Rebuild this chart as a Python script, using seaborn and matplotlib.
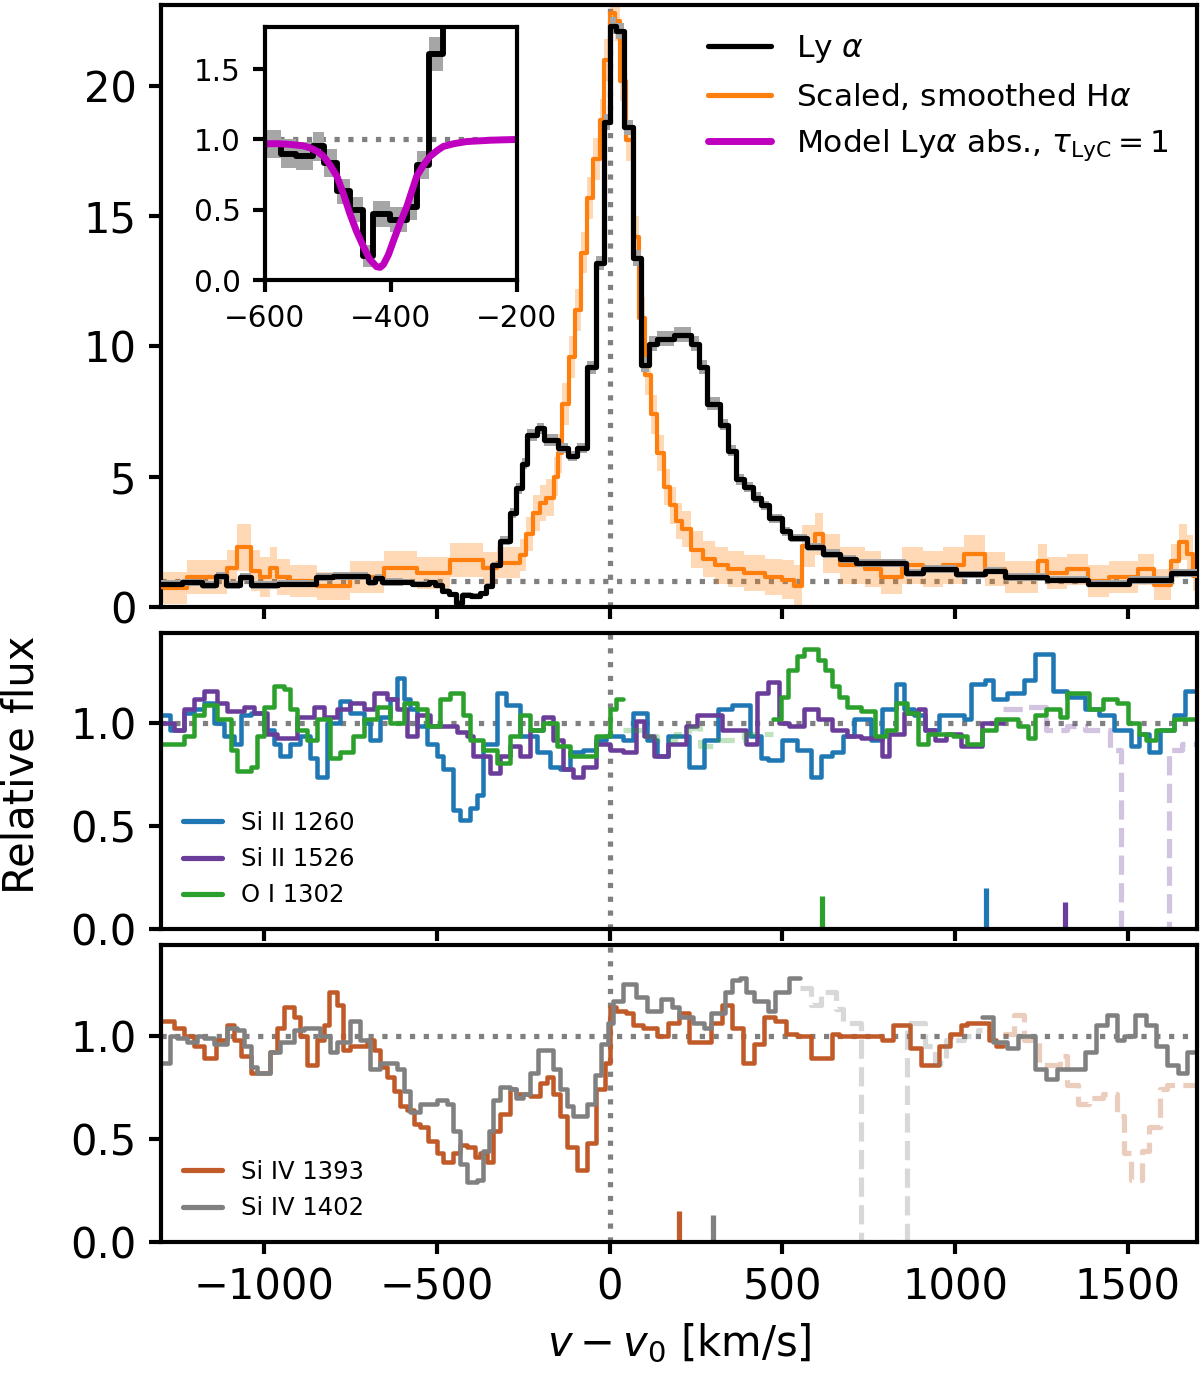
import numpy as np
import seaborn as sns
import matplotlib.pyplot as plt
from matplotlib.lines import Line2D

# Lyman alpha profile and a scaled, smoothed H-alpha profile (bin start velocities, km/s)
lya_v = [-1330, -1290, -1240, -1180, -1140, -1110, -1070, -1040, -960, -850,
         -800, -700, -680, -660, -600, -574, -550, -523, -507, -486,
         -465, -444, -428, -401, -375, -359, -340, -317, -290, -270,
         -255, -240, -210, -190, -150, -120, -95, -65, -41, -17,
         0, 17, 41, 66, 90, 114, 138, 186, 234, 258,
         282, 318, 342, 366, 390, 414, 438, 462, 498, 522,
         570, 618, 666, 714, 858, 906, 1002, 1086, 1146, 1265,
         1385, 1505, 1625, 1700]
lya_f = [0.9, 0.9, 0.95, 0.85, 1.2, 0.85, 1.15, 0.85, 0.9, 1.15,
         1.2, 0.95, 1.1, 0.95, 0.97, 0.90, 0.88, 0.95, 0.83, 0.63,
         0.50, 0.17, 0.47, 0.43, 0.52, 0.82, 1.61, 2.55, 3.6, 4.55,
         5.5, 6.6, 6.85, 6.4, 6.1, 5.8, 6.1, 9.2, 13.2, 18.6,
         22.3, 22.1, 18.4, 13.4, 9.3, 10.1, 10.3, 10.45, 10.1, 9.2,
         7.8, 7.0, 6.0, 4.9, 4.6, 4.2, 3.9, 3.4, 2.9, 2.65,
         2.3, 2.05, 1.85, 1.7, 1.3, 1.45, 1.25, 1.4, 1.15, 1.05,
         0.9, 1.05, 1.3, 1.3]
lya_err = [0.15, 0.15, 0.14, 0.15, 0.16, 0.15, 0.15, 0.14, 0.15, 0.16,
           0.16, 0.15, 0.15, 0.15, 0.10, 0.10, 0.10, 0.10, 0.10, 0.09,
           0.09, 0.08, 0.09, 0.09, 0.09, 0.10, 0.12, 0.18, 0.2, 0.2,
           0.22, 0.22, 0.22, 0.22, 0.2, 0.2, 0.2, 0.25, 0.28, 0.3,
           0.32, 0.32, 0.3, 0.3, 0.28, 0.28, 0.28, 0.28, 0.28, 0.26,
           0.24, 0.22, 0.22, 0.2, 0.2, 0.2, 0.18, 0.18, 0.17, 0.17,
           0.16, 0.16, 0.16, 0.15, 0.15, 0.15, 0.15, 0.15, 0.14, 0.14,
           0.14, 0.15, 0.16, 0.16]

ha_v = [-1330, -1290, -1223, -1108, -1079, -1040, -1012, -983, -963, -925,
        -848, -751, -655, -559, -462, -366, -327, -260, -241, -222,
        -202, -185, -161, -149, -137, -119, -101, -83, -65, -47,
        -29, -17, 0, 15, 30, 48, 66, 84, 102, 120,
        138, 156, 174, 192, 210, 234, 270, 306, 342, 390,
        450, 498, 534, 558, 594, 618, 666, 738, 786, 846,
        906, 966, 1026, 1086, 1145, 1241, 1265, 1325, 1385, 1445,
        1529, 1577, 1625, 1649, 1673, 1690, 1700]
ha_f = [0.75, 0.73, 1.15, 1.5, 2.3, 1.4, 1.15, 1.5, 1.15, 1.0,
        0.8, 1.15, 1.5, 1.3, 1.8, 1.5, 1.7, 2.0, 2.8, 3.6,
        4.0, 4.2, 5.0, 5.9, 7.8, 9.6, 11.4, 13.6, 15.7, 17.2,
        18.7, 21.0, 22.8, 22.5, 20.2, 17.9, 14.2, 11.1, 8.9, 7.4,
        5.9, 4.6, 3.9, 3.3, 3.0, 2.2, 1.85, 1.6, 1.45, 1.3,
        1.15, 1.05, 0.8, 2.35, 2.8, 2.05, 1.6, 1.45, 1.15, 1.6,
        1.45, 1.6, 2.05, 1.45, 1.15, 1.75, 1.3, 1.45, 1.0, 1.15,
        1.45, 0.85, 1.75, 2.5, 2.05, 1.2, 1.2]
ha_err = [0.6, 0.6, 0.65, 0.7, 0.9, 0.8, 0.75, 0.8, 0.7, 0.6,
          0.55, 0.6, 0.65, 0.6, 0.65, 0.6, 0.6, 0.6, 0.65, 0.7,
          0.7, 0.7, 0.75, 0.75, 0.8, 0.8, 0.8, 0.8, 0.8, 0.8,
          0.8, 0.8, 0.8, 0.8, 0.8, 0.8, 0.8, 0.8, 0.75, 0.75,
          0.7, 0.7, 0.7, 0.7, 0.7, 0.7, 0.7, 0.7, 0.7, 0.7,
          0.7, 0.75, 0.8, 0.8, 0.8, 0.75, 0.7, 0.7, 0.65, 0.7,
          0.7, 0.7, 0.7, 0.65, 0.6, 0.65, 0.6, 0.6, 0.6, 0.6,
          0.6, 0.6, 0.65, 0.7, 0.7, 0.6, 0.6]

# model Ly-alpha absorption (inset)
mod_v = [-600, -580, -560, -540, -528, -517, -507, -497, -486, -476,
         -465, -455, -444, -434, -423, -417, -412, -404, -396, -386,
         -375, -367, -359, -348, -338, -327, -317, -300, -280, -240, -200]
mod_f = [0.97, 0.97, 0.965, 0.955, 0.94, 0.915, 0.88, 0.82, 0.74, 0.62,
         0.47, 0.35, 0.24, 0.15, 0.095, 0.09, 0.11, 0.18, 0.28, 0.40,
         0.52, 0.63, 0.74, 0.82, 0.88, 0.92, 0.95, 0.97, 0.985, 0.995, 1.0]

# low ionisation lines
si1260_v = [-1300, -1272, -1233, -1204, -1175, -1146, -1117, -1089, -1069, -1040,
            -1002, -973, -954, -925, -896, -867, -848, -819, -780, -751,
            -713, -694, -665, -636, -617, -597, -578, -559, -530, -501,
            -482, -453, -434, -405, -385, -366, -327, -299, -260, -212,
            -173, -145, -116, -77, -39, -10, 39, 67, 107, 138,
            169, 231, 272, 314, 355, 407, 438, 458, 500, 541,
            582, 613, 644, 675, 706, 758, 789, 830, 851, 882,
            912, 954, 1026, 1047, 1088, 1109, 1150, 1201, 1232, 1284,
            1325, 1377, 1418, 1459, 1511, 1532, 1563, 1594, 1635, 1666,
            1700]
si1260_f = [1.04, 0.97, 1.05, 1.07, 1.10, 1.0, 0.94, 0.90, 1.04, 1.05,
            0.97, 0.90, 0.84, 0.90, 0.94, 0.83, 0.74, 1.0, 1.11, 1.05,
            1.0, 0.92, 1.03, 1.12, 1.22, 1.12, 1.07, 0.99, 0.90, 0.84,
            0.78, 0.58, 0.53, 0.59, 0.65, 0.90, 1.15, 1.09, 0.94, 0.86,
            0.79, 0.78, 0.86, 0.87, 0.92, 0.94, 0.92, 1.05, 0.92, 0.84,
            0.94, 0.79, 0.92, 1.07, 1.09, 0.94, 0.83, 0.82, 0.92, 0.87,
            0.74, 0.84, 0.86, 0.94, 1.02, 0.92, 1.07, 1.19, 1.07, 1.04,
            0.97, 1.04, 1.02, 1.19, 1.21, 1.12, 1.15, 1.21, 1.34, 1.16,
            1.13, 1.07, 1.04, 0.97, 0.89, 0.95, 0.86, 0.97, 1.04, 1.16,
            1.16]

si1526_v = [-1300, -1262, -1233, -1204, -1175, -1137, -1108, -1060, -1031, -992,
            -963, -906, -857, -828, -790, -751, -713, -684, -645, -617,
            -588, -559, -520, -482, -443, -414, -395, -347, -318, -289,
            -260, -231, -193, -164, -135, -106, -77, -39, 0, 39,
            77, 100, 128, 169, 221, 252, 324, 396, 427, 458,
            489, 520, 562, 603, 644, 686, 727, 789, 809, 851,
            892, 912, 943, 974, 1016, 1078, 1140]
si1526_f = [1.0, 0.97, 1.07, 1.12, 1.16, 1.10, 1.06, 1.08, 1.05, 0.95,
            0.93, 1.03, 1.08, 1.03, 1.07, 1.10, 1.07, 1.15, 1.12, 1.07,
            0.94, 1.04, 0.99, 0.99, 0.96, 0.94, 0.84, 0.76, 0.84, 0.89,
            0.84, 0.97, 1.03, 0.92, 0.78, 0.74, 0.79, 0.90, 0.87, 0.86,
            1.01, 0.94, 0.84, 0.90, 0.99, 1.04, 0.97, 0.90, 1.15, 1.20,
            1.0, 0.99, 1.07, 1.02, 0.97, 0.94, 0.93, 0.84, 0.95, 1.05,
            1.07, 0.97, 0.92, 0.95, 0.89, 1.0, 1.0]
si1526_mask_v = [1140, 1201, 1263, 1325, 1377, 1449, 1482, 1620, 1656, 1700]
si1526_mask_f = [1.07, 1.08, 0.97, 0.99, 0.97, 0.87, 0.0, 0.87, 0.90, 0.90]

oi_v = [-1300, -1233, -1204, -1175, -1137, -1098, -1079, -1040, -1021, -1002,
        -973, -944, -925, -906, -877, -848, -809, -780, -742, -713,
        -674, -636, -597, -559, -530, -491, -462, -424, -405, -366,
        -327, -289, -260, -231, -193, -154, -116, -39, 0, 19, 39]
oi_f = [0.90, 0.94, 1.04, 1.09, 1.02, 0.87, 0.77, 0.79, 0.94, 1.08,
        1.18, 1.17, 1.07, 0.97, 0.92, 1.02, 0.83, 0.86, 0.94, 1.02,
        1.08, 1.0, 1.10, 1.07, 0.99, 1.12, 1.15, 1.04, 0.92, 0.87,
        0.81, 0.94, 1.04, 0.97, 1.0, 0.89, 0.84, 0.94, 1.07, 1.12, 1.12]
oi_mask_v = [39, 87, 138, 190, 230, 262, 310, 390, 474]
oi_mask_f = [0.97, 0.94, 0.92, 0.95, 0.98, 0.89, 0.92, 0.95, 0.95]
oi2_v = [474, 495, 515, 541, 562, 603, 623, 644, 665, 686,
         727, 768, 799, 830, 861, 892, 923, 995, 1036, 1078,
         1119, 1181, 1212, 1232, 1263, 1305, 1325, 1387, 1428, 1470,
         1501, 1532, 1552, 1583, 1635, 1700]
oi2_f = [1.02, 1.13, 1.26, 1.33, 1.36, 1.31, 1.26, 1.18, 1.13, 1.08,
         1.06, 0.94, 0.97, 1.10, 1.05, 0.90, 0.95, 0.94, 0.90, 0.97,
         1.02, 0.99, 0.93, 1.04, 1.07, 1.03, 1.15, 1.07, 1.12, 1.10,
         1.0, 0.95, 0.92, 0.97, 1.02, 1.02]

# high ionisation lines
si1393_v = [-1300, -1262, -1233, -1204, -1175, -1141, -1108, -1089, -1069, -1040,
            -983, -963, -944, -915, -896, -877, -848, -828, -814, -790,
            -771, -751, -703, -684, -665, -645, -626, -607, -588, -568,
            -549, -525, -501, -482, -453, -434, -414, -390, -376, -356,
            -337, -318, -289, -270, -231, -202, -183, -164, -145, -125,
            -96, -67, -39, -14, 0, 19, 48, 67, 96, 138,
            169, 200, 231, 293, 324, 355, 386, 417, 448, 479,
            510, 541, 582, 644, 665, 789, 820, 871, 902, 954,
            985, 1016, 1036, 1098, 1119, 1140]
si1393_f = [1.07, 1.04, 1.0, 0.95, 0.89, 0.98, 1.05, 0.98, 0.90, 0.82,
            0.92, 1.04, 1.14, 1.09, 1.0, 0.86, 0.98, 1.05, 1.21, 1.15,
            0.93, 0.95, 0.98, 0.93, 0.85, 0.80, 0.73, 0.66, 0.64, 0.57,
            0.56, 0.49, 0.43, 0.39, 0.43, 0.47, 0.46, 0.41, 0.43, 0.39,
            0.54, 0.62, 0.74, 0.72, 0.71, 0.77, 0.80, 0.72, 0.61, 0.46,
            0.35, 0.48, 0.74, 0.87, 1.14, 1.12, 1.11, 1.05, 1.04, 1.0,
            1.06, 1.11, 0.97, 1.06, 1.15, 1.04, 0.87, 0.96, 1.09, 1.07,
            1.01, 1.0, 0.89, 1.01, 1.0, 0.98, 1.05, 0.94, 0.86, 0.95,
            1.01, 1.05, 1.06, 0.98, 0.95, 0.95]
si1393_mask_v = [1140, 1170, 1201, 1243, 1305, 1325, 1356, 1387, 1428, 1470,
                 1490, 1511, 1542, 1563, 1594, 1614, 1700]
si1393_mask_f = [1.01, 1.10, 0.98, 0.86, 0.90, 0.76, 0.67, 0.70, 0.72, 0.61,
                 0.43, 0.30, 0.44, 0.56, 0.74, 0.76, 0.76]

si1402_v = [-1300, -1272, -1252, -1223, -1194, -1175, -1146, -1108, -1079, -1060,
            -1040, -1021, -983, -954, -915, -886, -838, -809, -790, -751,
            -723, -694, -665, -645, -617, -597, -578, -549, -501, -472,
            -453, -434, -414, -385, -366, -351, -337, -318, -289, -270,
            -250, -231, -207, -164, -145, -125, -106, -67, -43, -24,
            -5, 10, 39, 77, 107, 148, 179, 200, 241, 272,
            293, 334, 355, 376, 396, 417, 458, 479, 520, 551]
si1402_f = [0.87, 1.0, 0.99, 0.97, 1.0, 0.99, 0.96, 1.04, 1.03, 0.95,
            0.85, 0.82, 0.92, 0.97, 1.03, 1.04, 1.0, 0.92, 0.97, 1.07,
            0.98, 0.84, 0.87, 0.87, 0.84, 0.73, 0.63, 0.67, 0.69, 0.67,
            0.54, 0.38, 0.29, 0.30, 0.44, 0.54, 0.69, 0.75, 0.74, 0.70,
            0.72, 0.82, 0.93, 0.84, 0.74, 0.66, 0.61, 0.67, 0.81, 0.96,
            1.06, 1.17, 1.25, 1.19, 1.12, 1.18, 1.14, 1.09, 1.06, 1.04,
            1.11, 1.21, 1.27, 1.28, 1.21, 1.17, 1.12, 1.21, 1.28, 1.28]
si1402_mask_v = [551, 582, 613, 654, 675, 727, 861, 912, 943, 974, 1026, 1067, 1078]
si1402_mask_f = [1.23, 1.15, 1.21, 1.13, 1.06, 0.0, 1.06, 0.95, 0.87, 0.98, 1.0, 1.03, 1.03]
si1402b_v = [1078, 1109, 1150, 1181, 1232, 1263, 1294, 1377, 1408, 1439,
             1470, 1490, 1521, 1552, 1583, 1614, 1645, 1671, 1700]
si1402b_f = [1.09, 0.97, 0.94, 1.0, 0.84, 0.79, 0.84, 0.92, 1.05, 1.10,
             0.98, 1.0, 1.10, 1.05, 0.95, 0.86, 0.82, 0.92, 0.92]

# markers for neighbouring transitions
mark_mid_v = [616, 1090, 1318]
mark_mid_h = [0.16, 0.20, 0.13]
mark_bot_v = [200, 298]
mark_bot_h = [0.15, 0.13]

c_blue = "#1f77b4"
c_purple = "#6a3d9a"
c_green = "#2ca02c"
c_brown = "#c05a28"
c_gray = "#808080"

sns.set_style("ticks", {"axes.edgecolor": "black", "xtick.color": "black",
                        "ytick.color": "black", "text.color": "black",
                        "axes.labelcolor": "black"})
plt.rcParams["font.family"] = ["DejaVu Sans"]
plt.rcParams["mathtext.fontset"] = "dejavusans"
plt.rcParams["axes.linewidth"] = 1.2
plt.rcParams["xtick.major.width"] = 1.2
plt.rcParams["ytick.major.width"] = 1.2


def step(ax, v, f, color, lw=1.3, **kw):
    sns.lineplot(x=v, y=f, ax=ax, color=color, lw=lw, drawstyle="steps-post",
                 estimator=None, sort=False, legend=False, **kw)


def faint(ax, v, f, color):
    step(ax, v, f, color, lw=1.5, alpha=0.3, linestyle="--")


fig = plt.figure(figsize=(4.8, 5.512), dpi=250)
ax1 = fig.add_axes([0.134, 0.5595, 0.8633, 0.4369])
ax2 = fig.add_axes([0.134, 0.3258, 0.8633, 0.2148])
ax3 = fig.add_axes([0.134, 0.0987, 0.8633, 0.2155])

# --- top panel
lv, lf, le = np.array(lya_v), np.array(lya_f), np.array(lya_err)
hv, hf, he = np.array(ha_v), np.array(ha_f), np.array(ha_err)
ax1.fill_between(hv, hf - he, hf + he, step="post", color="tab:orange", alpha=0.3, lw=0, zorder=1)
step(ax1, ha_v, ha_f, "tab:orange", lw=1.2, zorder=3)
ax1.fill_between(lv, lf - le, lf + le, step="post", color="0.65", lw=0, zorder=3.5)
step(ax1, lya_v, lya_f, "black", lw=1.5, zorder=4)
ax1.set_ylim(0, 23.1)
ax1.set_yticks([0, 5, 10, 15, 20])
handles = [Line2D([], [], color="black", lw=1.5),
           Line2D([], [], color="tab:orange", lw=1.5),
           Line2D([], [], color="m", lw=2)]
labels = [r"Ly $\alpha$", r"Scaled, smoothed H$\alpha$",
          r"Model Ly$\alpha$ abs., $\tau_{\rm LyC} = 1$"]
ax1.legend(handles, labels, loc="upper right", frameon=False, fontsize=9)

# inset
axin = fig.add_axes([0.2208, 0.7968, 0.21, 0.1836])
axin.fill_between(lv, lf - le, lf + le, step="post", color="0.65", lw=0)
step(axin, lya_v, lya_f, "black", lw=1.7)
sns.lineplot(x=mod_v, y=mod_f, ax=axin, color="m", lw=2, estimator=None, sort=False)
axin.axhline(1, color=c_gray, ls=":", lw=1.5, zorder=0)
axin.set_xlim(-600, -200)
axin.set_ylim(0, 1.8)
axin.set_xticks([-600, -400, -200])
axin.set_yticks([0.0, 0.5, 1.0, 1.5])
axin.tick_params(labelsize=8.5)
axin.set_xlabel("")
axin.set_ylabel("")

# --- middle panel
step(ax2, si1260_v, si1260_f, c_blue)
step(ax2, si1526_v, si1526_f, c_purple)
faint(ax2, si1526_mask_v, si1526_mask_f, c_purple)
step(ax2, oi_v, oi_f, c_green)
faint(ax2, oi_mask_v, oi_mask_f, c_green)
step(ax2, oi2_v, oi2_f, c_green)
ax2.vlines(mark_mid_v, 0, mark_mid_h, colors=[c_green, c_blue, c_purple], lw=1.5)
ax2.set_ylim(0, 1.44)
ax2.legend([Line2D([], [], color=c, lw=1.5) for c in (c_blue, c_purple, c_green)],
           ["Si II 1260", "Si II 1526", "O I 1302"],
           loc="lower left", frameon=False, fontsize=7, handlelength=1.6)

# --- bottom panel
step(ax3, si1393_v, si1393_f, c_brown)
faint(ax3, si1393_mask_v, si1393_mask_f, c_brown)
step(ax3, si1402_v, si1402_f, c_gray)
faint(ax3, si1402_mask_v, si1402_mask_f, c_gray)
step(ax3, si1402b_v, si1402b_f, c_gray)
ax3.vlines(mark_bot_v, 0, mark_bot_h, colors=[c_brown, c_gray], lw=1.5)
ax3.set_ylim(0, 1.44)
ax3.legend([Line2D([], [], color=c, lw=1.5) for c in (c_brown, c_gray)],
           ["Si IV 1393", "Si IV 1402"],
           loc="lower left", frameon=False, fontsize=7, handlelength=1.6)

for ax in (ax1, ax2, ax3):
    ax.axhline(1, color=c_gray, ls=":", lw=1.5, zorder=0)
    ax.axvline(0, color=c_gray, ls=":", lw=1.5, zorder=0)
    ax.set_xlim(-1300, 1700)
    ax.set_xticks([-1000, -500, 0, 500, 1000, 1500])
    ax.tick_params(labelsize=12)
    ax.set_xlabel("")
    ax.set_ylabel("")
for ax in (ax2, ax3):
    ax.set_yticks([0.0, 0.5, 1.0])
ax1.tick_params(labelbottom=False)
ax2.tick_params(labelbottom=False)

ax3.set_xlabel(r"$v - v_0$ [km/s]", fontsize=12)
fig.text(0.018, 0.445, "Relative flux", rotation=90, va="center", ha="center", fontsize=12)

fig.savefig("out.png", dpi=250)
